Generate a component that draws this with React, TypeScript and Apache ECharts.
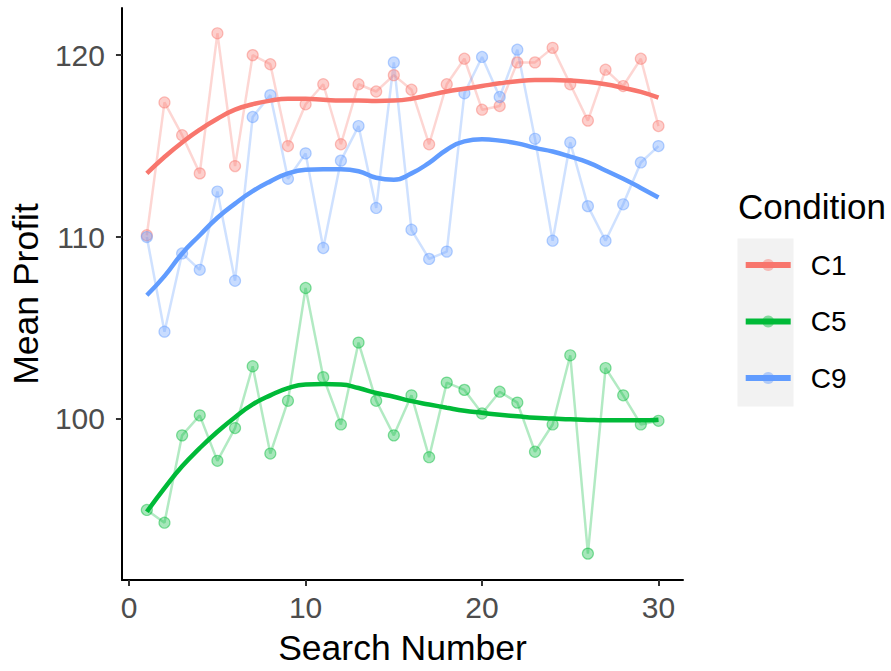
import React, { useEffect, useRef } from "react";
import * as echarts from "echarts";

const searchNumbers = Array.from({ length: 30 }, (_, i) => i + 1);

const c1Values = [110.1, 117.4, 115.6, 113.5, 121.2, 113.9, 120.0, 119.5, 115.0, 117.3, 118.4, 115.1, 118.4, 118.0, 118.9, 118.1, 115.1, 118.4, 119.8, 117.0, 117.2, 119.6, 119.6, 120.4, 118.4, 116.4, 119.2, 118.3, 119.8, 116.1];
const c5Values = [95.0, 94.3, 99.1, 100.2, 97.7, 99.5, 102.9, 98.1, 101.0, 107.2, 102.3, 99.7, 104.2, 101.0, 99.1, 101.3, 97.9, 102.0, 101.6, 100.3, 101.5, 100.9, 98.2, 99.7, 103.5, 92.6, 102.8, 101.3, 99.7, 99.9];
const c9Values = [110.0, 104.8, 109.1, 108.2, 112.5, 107.6, 116.6, 117.8, 113.2, 114.6, 109.4, 114.2, 116.1, 111.6, 119.6, 110.4, 108.8, 109.2, 117.9, 119.9, 117.7, 120.3, 115.4, 109.8, 115.2, 111.7, 109.8, 111.8, 114.1, 115.0];

const c1Smooth = [113.5, 114.4, 115.2, 115.9, 116.5, 117.0, 117.3, 117.5, 117.6, 117.6, 117.55, 117.5, 117.5, 117.48, 117.5, 117.6, 117.8, 118.0, 118.15, 118.3, 118.45, 118.57, 118.63, 118.63, 118.6, 118.53, 118.4, 118.2, 117.98, 117.66];
const c5Smooth = [94.9, 96.2, 97.4, 98.4, 99.3, 100.1, 100.8, 101.3, 101.7, 101.9, 101.92, 101.9, 101.7, 101.43, 101.22, 100.98, 100.8, 100.62, 100.45, 100.34, 100.23, 100.15, 100.07, 100.03, 99.98, 99.95, 99.93, 99.93, 99.93, 99.96];
const c9Smooth = [106.8, 107.85, 109.1, 110.1, 111.06, 111.84, 112.52, 113.06, 113.5, 113.7, 113.73, 113.73, 113.62, 113.26, 113.15, 113.5, 114.08, 114.8, 115.26, 115.37, 115.3, 115.15, 114.9, 114.7, 114.42, 114.1, 113.66, 113.2, 112.7, 112.17];

const conditionNames = ["C1", "C5", "C9"];
const xTicks = [0, 10, 20, 30];
const yTicks = [100, 110, 120];

const colors = [
  [248, 118, 109],
  [0, 186, 56],
  [97, 156, 255],
];

const FONT = "'Liberation Sans', Arial, sans-serif";

export default function App() {
  const ref = useRef<HTMLDivElement>(null);

  useEffect(() => {
    document.body.style.margin = "0";
    if (!ref.current) return;
    const chart = echarts.init(ref.current, undefined, { renderer: "svg" });
    const raws = [c1Values, c5Values, c9Values];
    const smooths = [c1Smooth, c5Smooth, c9Smooth];
    const rgba = (c: number[], a: number) => `rgba(${c[0]},${c[1]},${c[2]},${a})`;
    const hex = (c: number[]) => rgba(c, 1);

    const smoothSeries = conditionNames.map((name, i) => ({
      name,
      type: "line",
      z: 3,
      data: searchNumbers.map((n, j) => [n, smooths[i][j]]),
      smooth: true,
      symbol: "circle",
      showSymbol: false,
      symbolSize: 12,
      lineStyle: { color: hex(colors[i]), width: 4.5 },
      itemStyle: { color: rgba(colors[i], 0.45) },
      emphasis: { disabled: true },
      silent: true,
    }));
    const rawSeries = conditionNames.map((name, i) => ({
      name,
      type: "line",
      z: 2,
      data: searchNumbers.map((n, j) => [n, raws[i][j]]),
      symbol: "circle",
      symbolSize: 11,
      lineStyle: { color: rgba(colors[i], 0.3), width: 2.5 },
      itemStyle: {
        color: rgba(colors[i], 0.35),
        borderColor: rgba(colors[i], 0.45),
        borderWidth: 1.2,
      },
      emphasis: { disabled: true },
      silent: true,
    }));

    chart.setOption({
      animation: false,
      grid: { left: 120, right: 208, top: 8, bottom: 84, containLabel: false },
      xAxis: {
        type: "value",
        min: -0.41,
        max: 31.39,
        name: "Search Number",
        nameLocation: "middle",
        nameGap: 50,
        nameTextStyle: { fontFamily: FONT, fontSize: 35.5, color: "#000" },
        axisLine: { show: true, onZero: false, lineStyle: { color: "#000", width: 2 } },
        axisTick: { show: true, length: 6, customValues: xTicks, lineStyle: { color: "#333", width: 2 } },
        axisLabel: { customValues: xTicks, fontFamily: FONT, fontSize: 30, color: "#4D4D4D", margin: 12 },
        splitLine: { show: false },
      },
      yAxis: {
        type: "value",
        min: 91.15,
        max: 122.59,
        name: "Mean Profit",
        nameLocation: "middle",
        nameGap: 73,
        nameTextStyle: { fontFamily: FONT, fontSize: 35.5, color: "#000" },
        axisLine: { show: true, onZero: false, lineStyle: { color: "#000", width: 2 } },
        axisTick: { show: true, length: 6, customValues: yTicks, lineStyle: { color: "#333", width: 2 } },
        axisLabel: { customValues: yTicks, fontFamily: FONT, fontSize: 30, color: "#4D4D4D", margin: 17 },
        splitLine: { show: false },
      },
      legend: {
        orient: "vertical",
        left: 742.7,
        top: 251,
        padding: 0,
        itemWidth: 45,
        itemHeight: 15,
        itemGap: 28.5,
        data: conditionNames,
        selectedMode: false,
        lineStyle: { width: 6 },
        textStyle: { fontFamily: FONT, fontSize: 28, color: "#000", padding: [0, 0, 0, 15] },
      },
      graphic: [
        {
          type: "rect",
          z: -1,
          shape: { x: 737.5, y: 238.5, width: 56, height: 168 },
          style: { fill: "#F2F2F2" },
          silent: true,
        },
        {
          type: "text",
          x: 738,
          y: 206,
          style: {
            text: "Condition",
            fontFamily: FONT,
            fontSize: 35,
            fill: "#000",
            verticalAlign: "middle",
            align: "left",
          },
          silent: true,
        },
      ],
      series: [...smoothSeries, ...rawSeries],
    });

    return () => chart.dispose();
  }, []);

  return <div ref={ref} style={{ width: 891, height: 671 }} />;
}
